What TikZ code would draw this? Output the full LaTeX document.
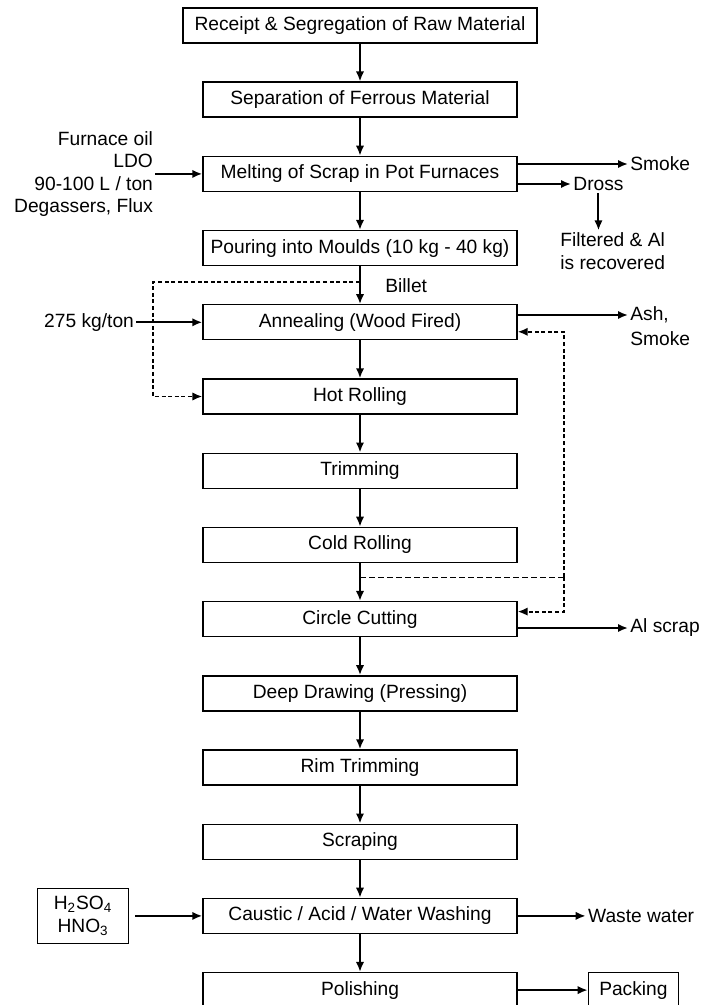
\documentclass[tikz,border=0pt]{standalone}
\usepackage{fontspec}
\setmainfont{Liberation Sans}
\usepackage{tikz}
\usetikzlibrary{bayesnet,arrows.meta,positioning}

\newcommand{\flowfont}{\fontsize{9.6}{11.2}\selectfont}

\begin{document}
\begin{tikzpicture}[x=0.5pt, y=-0.5pt, font=\flowfont]
  \tikzstyle{stage} = [rectangle, draw, line width=0.7pt, minimum width=157pt, minimum height=17.5pt, inner sep=0pt, font=\flowfont]
  \tikzstyle{side} = [inner sep=1pt, font=\flowfont]
  \tikzstyle{tip} = [line width=1pt, >={Latex[length=5pt,width=4.2pt]}]
  \tikzstyle{flow} = [draw, tip, ->]
  \tikzstyle{bypassline} = [draw, tip, ->, line width=0.9pt, dash pattern=on 2pt off 1.3pt]
  \tikzstyle{thinline} = [draw, line width=0.5pt, dash pattern=on 3pt off 1.5pt]
  \useasboundingbox (0,0) rectangle (702,1005);

  % Define nodes
  \node[stage, minimum width=177pt] (receipt) at (360,25.5) {Receipt \& Segregation of Raw Material};
  \node[stage, below=18.9pt of receipt] (ferrous) {Separation of Ferrous Material};
  \node[stage, below=18.9pt of ferrous] (melting) {Melting of Scrap in Pot Furnaces};
  \node[stage, below=18.9pt of melting] (pouring) {Pouring into Moulds (10 kg - 40 kg)};
  \node[stage, below=18.9pt of pouring] (annealing) {Annealing (Wood Fired)};
  \node[stage, below=18.9pt of annealing] (hotroll) {Hot Rolling};
  \node[stage, below=18.9pt of hotroll] (trimming) {Trimming};
  \node[stage, below=18.9pt of trimming] (coldroll) {Cold Rolling};
  \node[stage, below=18.9pt of coldroll] (cutting) {Circle Cutting};
  \node[stage, below=18.9pt of cutting] (drawing) {Deep Drawing (Pressing)};
  \node[stage, below=18.9pt of drawing] (rimtrim) {Rim Trimming};
  \node[stage, below=18.9pt of rimtrim] (scraping) {Scraping};
  \node[stage, below=18.9pt of scraping] (washing) {Caustic / Acid / Water Washing};
  \node[stage, below=18.9pt of washing] (polishing) {Polishing};

  % Side inputs and outputs
  \node[side, align=right, left=23.5pt of melting] (fuel) {Furnace oil\\LDO\\90-100 L / ton\\Degassers, Flux};
  \node[side, anchor=west] (smoke) at (628,164) {Smoke};
  \node[side, anchor=west] (dross) at (571,184) {Dross};
  \node[side, align=left, anchor=west] (filtered) at (558,251) {Filtered \& Al\\is recovered};
  \node[side, anchor=west] (billet) at (383,286) {Billet};
  \node[side, left=33pt of annealing] (kg) {275 kg/ton};
  \node[side, anchor=west, label={[side, anchor=north west, label distance=0pt, yshift=-2pt]south west:Smoke}] (ash) at (628,315) {Ash,};
  \node[side, anchor=west] (alscrap) at (628,628) {Al scrap};
  \node[stage, minimum width=45.5pt, minimum height=27.5pt, align=center, left=36.5pt of washing] (acid) {H\textsubscript{2}SO\textsubscript{4}\\HNO\textsubscript{3}};
  \node[side, right=34pt of washing] (waste) {Waste water};
  \node[stage, minimum width=45pt, right=35pt of polishing] (packing) {Packing};

  % Main line
  \foreach \a/\b in {receipt/ferrous, ferrous/melting, melting/pouring, pouring/annealing,
                     annealing/hotroll, hotroll/trimming, trimming/coldroll, coldroll/cutting,
                     cutting/drawing, drawing/rimtrim, rimtrim/scraping, scraping/washing,
                     washing/polishing}
    {\edge [tip] {\a}{\b}};

  \draw[flow] (fuel) -- (melting);
  \draw[flow] (melting.east |- smoke) -- (smoke);
  \draw[flow] (melting.east |- dross) -- (dross);
  \draw[flow] (dross.south) -- (dross.south |- filtered.north);
  \draw[flow] (kg) -- (annealing);
  \draw[flow] (annealing.east |- ash) -- (ash);
  \draw[flow] (cutting.east |- alscrap) -- (alscrap);
  \draw[flow, shorten <=3pt] (acid) -- (washing);
  \draw[flow] (washing) -- (waste);
  \draw[flow] (polishing) -- (packing);

  % Bypass and return lines
  \coordinate (billetsplit) at (pouring.south |- 0,282);
  \coordinate (bypass) at (153,282);
  \draw[bypassline] (billetsplit) -- (bypass) |- (hotroll.west);
  \coordinate (coldsplit) at (coldroll.south |- 0,577);
  \coordinate (backturn) at (564,577);
  \draw[thinline] (coldsplit) -- (backturn);
  \draw[bypassline] (backturn) |- ([yshift=-4.75pt]annealing.east);
  \draw[bypassline] (backturn) |- ([yshift=3.75pt]cutting.east);
\end{tikzpicture}
\end{document}
